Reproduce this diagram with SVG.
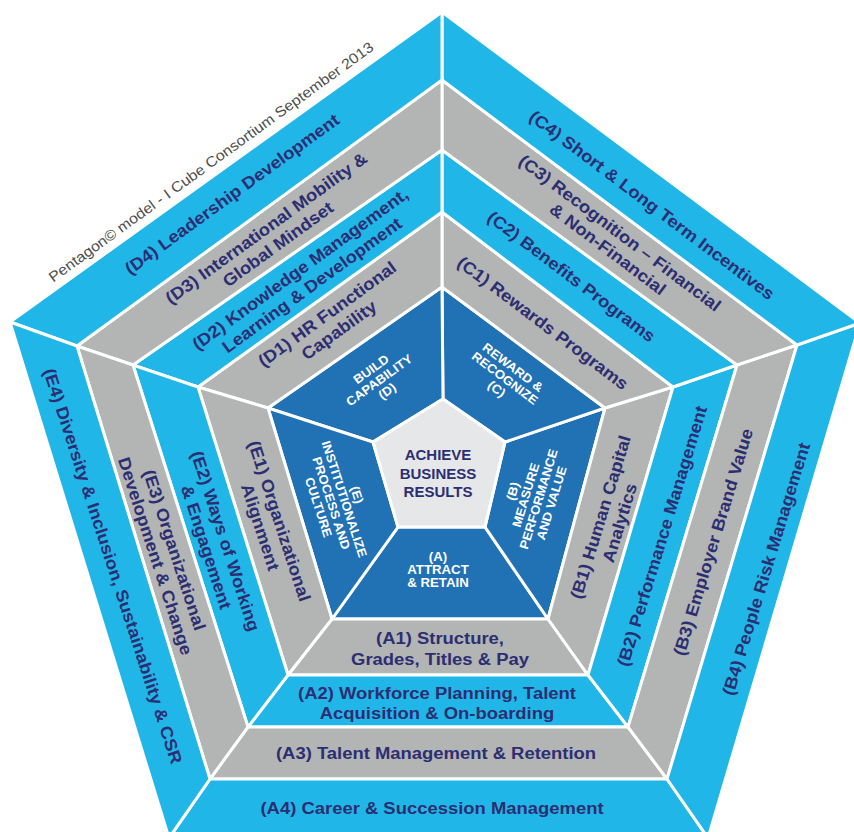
<svg xmlns="http://www.w3.org/2000/svg" width="854" height="832" viewBox="0 0 854 832">
  <style>
    .seg{stroke:#ffffff;stroke-width:3}
    .cy{fill:#20b7e8}
    .gy{fill:#b3b4b4}
    .db{fill:#2171b5}
    .ct{fill:#e6e7e8}
    .lbl{font-family:"Liberation Sans",Arial,sans-serif;font-weight:bold;font-size:17px;fill:#2c2e72;text-anchor:middle}
    .in{font-family:"Liberation Sans",Arial,sans-serif;font-weight:bold;font-size:12.5px;fill:#ffffff;text-anchor:middle}
    .core{font-family:"Liberation Sans",Arial,sans-serif;font-weight:bold;font-size:15px;fill:#2c2e72;text-anchor:middle}
    .note{font-family:"Liberation Sans",Arial,sans-serif;font-size:14.5px;fill:#4d4d4d;text-anchor:middle}
  </style>
  <rect width="854" height="832" fill="#ffffff"/>

  <!-- caption along the upper-left edge -->
  <text class="note" transform="translate(211,162) rotate(-36) scale(1.1,1)" y="5">Pentagon© model - I Cube Consortium September 2013</text>

  <!-- A: bottom sector -->
  <g id="sector-a">
    <g id="a0"><polygon class="seg db" points="485,527 398,527 332,619 548,619"/>
      <text class="in" transform="translate(438,569.5) scale(1.06,1)"><tspan x="0" y="-9">(A)</tspan><tspan x="0" y="4.5">ATTRACT</tspan><tspan x="0" y="18">&amp; RETAIN</tspan></text></g>
    <g id="a1"><polygon class="seg gy" points="548,619 332,619 288,675 588,675"/>
      <text class="lbl" transform="translate(440,648.5) scale(1.085,1)"><tspan x="0" y="-4.5">(A1) Structure,</tspan><tspan x="0" y="16.5">Grades, Titles &amp; Pay</tspan></text></g>
    <g id="a2"><polygon class="seg cy" points="588,675 288,675 248,727 628,727"/>
      <text class="lbl" transform="translate(437,703) scale(1.085,1)"><tspan x="0" y="-4">(A2) Workforce Planning, Talent</tspan><tspan x="0" y="16">Acquisition &amp; On-boarding</tspan></text></g>
    <g id="a3"><polygon class="seg gy" points="628,727 248,727 210,779 667,779"/>
      <text class="lbl" transform="translate(436,753) scale(1.085,1)" y="6">(A3) Talent Management &amp; Retention</text></g>
    <g id="a4"><polygon class="seg cy" points="667,779 210,779 169,838 708,838"/>
      <text class="lbl" transform="translate(432,808) scale(1.085,1)" y="6">(A4) Career &amp; Succession Management</text></g>
  </g>

  <!-- B: lower-right sector -->
  <g id="sector-b">
    <g id="b0"><polygon class="seg db" points="505,442 485,527 548,619 605,408"/>
      <text class="in" transform="translate(532,497) rotate(-73) scale(1.06,1)"><tspan x="0" y="-15.75">(B)</tspan><tspan x="0" y="-2.25">MEASURE</tspan><tspan x="0" y="11.25">PERFORMANCE</tspan><tspan x="0" y="24.75">AND VALUE</tspan></text></g>
    <g id="b1"><polygon class="seg gy" points="605,408 548,619 588,675 673,387"/>
      <text class="lbl" transform="translate(610,520) rotate(-73) scale(1.085,1)"><tspan x="0" y="-4">(B1) Human Capital</tspan><tspan x="0" y="16">Analytics</tspan></text></g>
    <g id="b2"><polygon class="seg cy" points="673,387 588,675 628,727 737,365"/>
      <text class="lbl" transform="translate(662,536) rotate(-73) scale(1.085,1)" y="6">(B2) Performance Management</text></g>
    <g id="b3"><polygon class="seg gy" points="737,365 628,727 667,779 797,345"/>
      <text class="lbl" transform="translate(713,542) rotate(-73) scale(1.085,1)" y="6">(B3) Employer Brand Value</text></g>
    <g id="b4"><polygon class="seg cy" points="797,345 667,779 708,838 860,323"/>
      <text class="lbl" transform="translate(766,569) rotate(-73) scale(1.085,1)" y="6">(B4) People Risk Management</text></g>
  </g>

  <!-- C: upper-right sector -->
  <g id="sector-c">
    <g id="c0"><polygon class="seg db" points="443,399 505,442 605,408 442,287"/>
      <text class="in" transform="translate(505,378) rotate(37) scale(1.06,1)"><tspan x="0" y="-9">REWARD &amp;</tspan><tspan x="0" y="4.5">RECOGNIZE</tspan><tspan x="0" y="18">(C)</tspan></text></g>
    <g id="c1"><polygon class="seg gy" points="442,287 605,408 673,387 442,212"/>
      <text class="lbl" transform="translate(543,323) rotate(37) scale(1.085,1)" y="6">(C1) Rewards Programs</text></g>
    <g id="c2"><polygon class="seg cy" points="442,212 673,387 737,365 442,150"/>
      <text class="lbl" transform="translate(571.5,276.5) rotate(37) scale(1.085,1)" y="6">(C2) Benefits Programs</text></g>
    <g id="c3"><polygon class="seg gy" points="442,150 737,365 797,345 442,80"/>
      <text class="lbl" transform="translate(614,241) rotate(37) scale(1.085,1)"><tspan x="0" y="-4">(C3) Recognition – Financial</tspan><tspan x="0" y="16">&amp; Non-Financial</tspan></text></g>
    <g id="c4"><polygon class="seg cy" points="442,80 797,345 860,323 442,12"/>
      <text class="lbl" transform="translate(652,205) rotate(37) scale(1.085,1)" y="6">(C4) Short &amp; Long Term Incentives</text></g>
  </g>

  <!-- D: upper-left sector -->
  <g id="sector-d">
    <g id="d0"><polygon class="seg db" points="373,442 443,399 442,287 268,408"/>
      <text class="in" transform="translate(379,380) rotate(-36) scale(1.06,1)"><tspan x="0" y="-9">BUILD</tspan><tspan x="0" y="4.5">CAPABILITY</tspan><tspan x="0" y="18">(D)</tspan></text></g>
    <g id="d1"><polygon class="seg gy" points="268,408 442,287 442,212 198,387"/>
      <text class="lbl" transform="translate(333,322) rotate(-36) scale(1.085,1)"><tspan x="0" y="-4">(D1) HR Functional</tspan><tspan x="0" y="16">Capability</tspan></text></g>
    <g id="d2"><polygon class="seg cy" points="198,387 442,212 442,150 133,365"/>
      <text class="lbl" transform="translate(306,277) rotate(-36) scale(1.085,1)"><tspan x="0" y="-4">(D2) Knowledge Management,</tspan><tspan x="0" y="16">Learning &amp; Development</tspan></text></g>
    <g id="d3"><polygon class="seg gy" points="133,365 442,150 442,80 77,346"/>
      <text class="lbl" transform="translate(272,236) rotate(-36) scale(1.085,1)"><tspan x="0" y="-4">(D3) International Mobility &amp;</tspan><tspan x="0" y="16">Global Mindset</tspan></text></g>
    <g id="d4"><polygon class="seg cy" points="77,346 442,80 442,12 10,322"/>
      <text class="lbl" transform="translate(232,194) rotate(-36) scale(1.085,1)" y="6">(D4) Leadership Development</text></g>
  </g>

  <!-- E: lower-left sector -->
  <g id="sector-e">
    <g id="e0"><polygon class="seg db" points="398,527 373,442 268,408 332,619"/>
      <text class="in" transform="translate(338,501) rotate(72) scale(1.06,1)"><tspan x="0" y="-15.75">(E)</tspan><tspan x="0" y="-2.25">INSTITUTIONALIZE</tspan><tspan x="0" y="11.25">PROCESS AND</tspan><tspan x="0" y="24.75">CULTURE</tspan></text></g>
    <g id="e1"><polygon class="seg gy" points="332,619 268,408 198,387 288,675"/>
      <text class="lbl" transform="translate(270,524) rotate(72) scale(1.085,1)"><tspan x="0" y="-4">(E1) Organizational</tspan><tspan x="0" y="16">Alignment</tspan></text></g>
    <g id="e2"><polygon class="seg cy" points="288,675 198,387 133,365 248,727"/>
      <text class="lbl" transform="translate(216,544) rotate(72) scale(1.085,1)"><tspan x="0" y="-4">(E2) Ways of Working</tspan><tspan x="0" y="16">&amp; Engagement</tspan></text></g>
    <g id="e3"><polygon class="seg gy" points="248,727 133,365 77,346 210,779"/>
      <text class="lbl" transform="translate(165,553) rotate(72) scale(1.085,1)"><tspan x="0" y="-4">(E3) Organizational</tspan><tspan x="0" y="16">Development &amp; Change</tspan></text></g>
    <g id="e4"><polygon class="seg cy" points="210,779 77,346 10,322 169,838"/>
      <text class="lbl" transform="translate(113,566) rotate(72) scale(1.085,1)" y="6">(E4) Diversity &amp; Inclusion, Sustainability &amp; CSR</text></g>
  </g>

  <!-- core goal -->
  <g id="core">
    <polygon class="seg ct" points="443,399 505,442 485,527 398,527 373,442"/>
    <text class="core" transform="translate(438,473.5)"><tspan x="0" y="-13.1">ACHIEVE</tspan><tspan x="0" y="5.4">BUSINESS</tspan><tspan x="0" y="23.9">RESULTS</tspan></text>
  </g>
</svg>
